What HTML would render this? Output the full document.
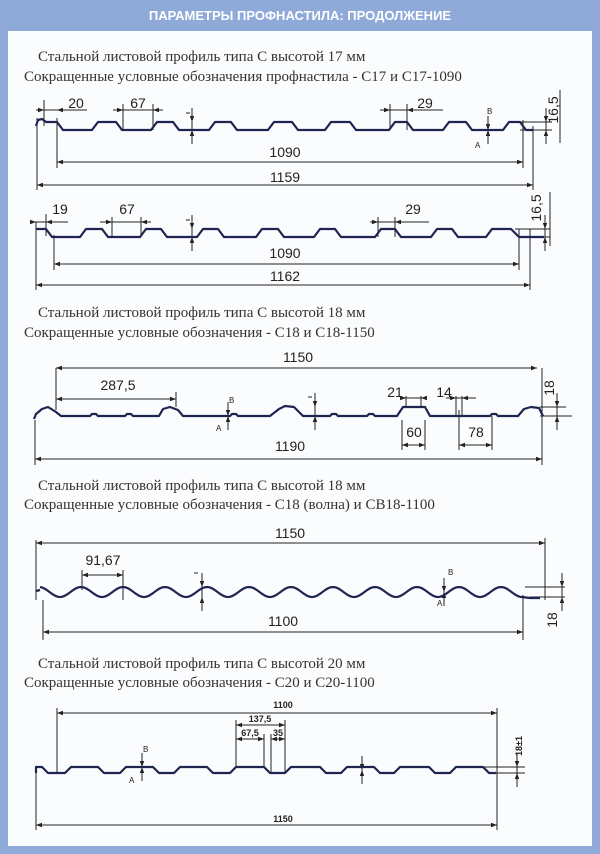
<!DOCTYPE html>
<html><head><meta charset="utf-8">
<style>
html,body{margin:0;padding:0;background:#fff;}
svg{display:block;}
.t{font-family:"Liberation Serif","Noto Serif CJK SC",serif;font-size:15px;fill:#333;}
.d{font-family:"Liberation Sans","Noto Sans CJK SC",sans-serif;font-size:14px;fill:#222;}
.s{font-family:"Liberation Sans","Noto Sans CJK SC",sans-serif;font-size:9px;fill:#222;font-weight:bold;}
</style></head><body>
<svg id="sv" width="600" height="854" viewBox="0 0 600 854" xmlns="http://www.w3.org/2000/svg">
<rect x="0" y="0" width="600" height="854" fill="#8faad9"/>
<rect x="8" y="31" width="584" height="815" fill="#fbfcfe"/>
<text x="300" y="20" text-anchor="middle" font-family="Liberation Sans, sans-serif" font-weight="bold" font-size="13" fill="#fff">ПАРАМЕТРЫ ПРОФНАСТИЛА: ПРОДОЛЖЕНИЕ</text>

<text class="t" x="38" y="61">Стальной листовой профиль типа С высотой 17 мм</text>
<text class="t" x="24" y="81">Сокращенные условные обозначения профнастила - С17 и С17-1090</text>
<text class="t" x="38" y="317">Стальной листовой профиль типа С высотой 18 мм</text>
<text class="t" x="24" y="337">Сокращенные условные обозначения - С18 и С18-1150</text>
<text class="t" x="38" y="490">Стальной листовой профиль типа С высотой 18 мм</text>
<text class="t" x="24" y="509">Сокращенные условные обозначения - С18 (волна) и СВ18-1100</text>
<text class="t" x="38" y="668">Стальной листовой профиль типа С высотой 20 мм</text>
<text class="t" x="24" y="687">Сокращенные условные обозначения - С20 и С20-1100</text>

<g id="g" stroke="#222" fill="none" stroke-width="1"></g>
<g id="p" stroke="#1d2550" fill="none" stroke-width="2.2" stroke-linejoin="round"></g>

<text class="d" x="76" y="108" text-anchor="middle">20</text>
<text class="d" x="138" y="108" text-anchor="middle">67</text>
<text class="d" x="425" y="108" text-anchor="middle">29</text>
<text class="d" x="285" y="157" text-anchor="middle">1090</text>
<text class="d" x="285" y="182" text-anchor="middle">1159</text>
<text class="d" transform="translate(558,110) rotate(-90)" text-anchor="middle">16,5</text>
<text class="d" x="60" y="214" text-anchor="middle">19</text>
<text class="d" x="127" y="214" text-anchor="middle">67</text>
<text class="d" x="413" y="214" text-anchor="middle">29</text>
<text class="d" x="285" y="258" text-anchor="middle">1090</text>
<text class="d" x="285" y="281" text-anchor="middle">1162</text>
<text class="d" transform="translate(541,208) rotate(-90)" text-anchor="middle">16,5</text>

<text class="d" x="298" y="362" text-anchor="middle">1150</text>
<text class="d" x="118" y="390" text-anchor="middle">287,5</text>
<text class="d" x="290" y="451" text-anchor="middle">1190</text>
<text class="d" x="395" y="397" text-anchor="middle">21</text>
<text class="d" x="444" y="397" text-anchor="middle">14</text>
<text class="d" x="414" y="437" text-anchor="middle">60</text>
<text class="d" x="476" y="437" text-anchor="middle">78</text>
<text class="d" transform="translate(554,388) rotate(-90)" text-anchor="middle">18</text>

<text class="d" x="290" y="538" text-anchor="middle">1150</text>
<text class="d" x="103" y="565" text-anchor="middle">91,67</text>
<text class="d" x="283" y="626" text-anchor="middle">1100</text>
<text class="d" transform="translate(557,620) rotate(-90)" text-anchor="middle">18</text>

<text class="s" x="283" y="708" text-anchor="middle">1100</text>
<text class="s" x="260" y="722" text-anchor="middle">137,5</text>
<text class="s" x="250" y="736" text-anchor="middle">67,5</text>
<text class="s" x="278" y="736" text-anchor="middle">35</text>
<text class="s" x="283" y="822" text-anchor="middle">1150</text>
<text class="s" transform="translate(522,746) rotate(-90)" text-anchor="middle">18±1</text>

<g font-family="Liberation Sans, sans-serif" font-size="8" fill="#222">
<text x="487" y="114">B</text><text x="475" y="148">A</text>
<text x="229" y="403">B</text><text x="216" y="431">A</text>
<text x="448" y="575">B</text><text x="437" y="606">A</text>
<text x="143" y="752">B</text><text x="129" y="783">A</text>
</g>
</svg>
<script>
var NS="http://www.w3.org/2000/svg";
function el(parent,tag,attrs){var e=document.createElementNS(NS,tag);for(var k in attrs)e.setAttribute(k,attrs[k]);document.getElementById(parent).appendChild(e);return e;}
function line(x1,y1,x2,y2,w){el('g','line',{x1:x1,y1:y1,x2:x2,y2:y2,'stroke-width':w||1});}
function arrow(x,y,dir){var s=6,h=2.2,p;
 if(dir=='l')p=[x,y,x+s,y-h,x+s,y+h];else if(dir=='r')p=[x,y,x-s,y-h,x-s,y+h];
 else if(dir=='u')p=[x,y,x-h,y+s,x+h,y+s];else p=[x,y,x-h,y-s,x+h,y-s];
 el('g','polygon',{points:p.join(' '),fill:'#222',stroke:'none'});}
function hdim(x1,x2,y){line(x1,y,x2,y);arrow(x1,y,'l');arrow(x2,y,'r');}
function hdimOut(x1,x2,y,l,r){line(x1-l,y,x2+r,y);arrow(x1,y,'r');arrow(x2,y,'l');}
function vdimOut(x,y1,y2){line(x,y1-14,x,y2+14);arrow(x,y1,'d');arrow(x,y2,'u');}
function trap(tops,s,yt,yb,start,end){
 var pts=(start||[]).slice();
 tops.forEach(function(t){pts.push([t[0]-s,yb],[t[0],yt],[t[1],yt],[t[1]+s,yb]);});
 if(end)end.forEach(function(p){pts.push(p);});
 el('p','polyline',{points:pts.map(function(p){return p.join(',')}).join(' ')});}
trap([[98,116],[157,173],[215,231],[274,292],[331,350]],6,122,130,
 [[36,126],[38,120],[42,119],[46,122],[57,122],[63,130]],
 [[389,130],[395,122],[407,122],[413,130],[443,130],[449,122],[466,122],[472,130],[503,130],[509,122],[520,122],[526,130],[533,130]]);
el('p','polyline',{points:'36,229 46,229 52,237 80,237 86,229 102,229 108,237 140,237 146,229 161,229 167,237 197,237 203,229 218,229 224,237 256,237 262,229 278,229 284,237 314,237 320,229 335,229 341,237 375,237 381,229 395,229 401,237 431,237 437,229 452,229 458,237 486,237 492,229 511,229 519,237 544,237'});
var p3='34,419 36,414 42,409 48,407 56,412 61,416 ';
p3+='90,416 92,414 96,414 98,416 125,416 127,414 131,414 133,416 159,416 163,409 170,407 178,410 183,416 ';
p3+='230,416 232,414 236,414 238,416 270,416 279,409 285,406 294,407 303,416 ';
p3+='330,416 332,414 336,414 338,416 367,416 369,414 373,414 375,416 397,416 403,407 425,407 430,416 ';
p3+='490,416 492,414 496,414 498,416 518,416 524,409 531,407 539,408 543,416';
el('p','polyline',{points:p3});
var pts=[];
for(var x=40;x<=522;x+=2){var y=592-5*Math.cos((x-81)/42*2*Math.PI);pts.push(x.toFixed(1)+','+y.toFixed(1));}
el('p','polyline',{points:pts.join(' ')+' 530,598 540,598'});
el('p','polyline',{points:'36,591 40,590'});
el('p','polyline',{points:'36,773 36,767 42,767 48,773 65,773 71,767 98,767 104,773 120,773 126,767 153,767 159,773 174,773 180,767 207,767 213,773 230,773 236,767 264,767 270,773 285,773 291,767 320,767 326,773 341,773 347,767 374,767 380,773 394,773 400,767 429,767 435,773 450,773 456,767 483,767 489,773 496,773'});

line(37,118,37,190);line(57,118,57,168);line(44,100,44,126);
hdimOut(44,57,110,8,30);
line(123,104,123,130);line(153,104,153,130);hdimOut(123,153,110,10,10);
line(390,104,390,130);line(407,104,407,130);hdimOut(390,407,110,10,36);
hdim(57,523,162);line(523,120,523,168);hdim(37,533,185);line(533,126,533,190);
vdimOut(192,122,130);line(186,113,190,113);
line(520,122,552,122);line(520,130,552,130);vdimOut(546,122,130);line(560,90,560,143);
vdimOut(488,130,130);
line(36,222,36,290);line(54,235,54,270);line(46,214,46,236);
hdimOut(36,46,222,6,22);
line(112,217,112,237);line(141,217,141,237);hdimOut(112,141,222,12,10);
line(378,217,378,237);line(395,217,395,237);hdimOut(378,395,222,8,34);
hdim(54,519,264);line(519,229,519,270);hdim(36,530,285);line(530,229,530,290);
vdimOut(192,229,237);line(186,220,190,220);
line(515,229,550,229);line(519,237,550,237);vdimOut(545,229,237);line(550,192,550,246);
line(56,368,56,410);line(35,420,35,465);line(542,368,542,465);
hdim(56,537,368);hdim(56,176,399);line(176,392,176,407);
hdim(35,542,459);
vdimOut(315,407,416);line(308,397,312,397);
line(402,420,402,450);line(425,420,425,450);hdim(402,425,445);
line(459,410,459,450);line(492,416,492,450);hdim(459,492,445);
line(406,396,406,407);line(421,396,421,407);hdimOut(406,421,398,6,4);
line(456,396,456,416);line(462,396,462,416);hdimOut(456,462,398,10,14);
line(540,407,566,407);line(540,416,572,416);vdimOut(557,407,416);
vdimOut(228,416,416);
line(36,540,36,600);line(545,538,545,600);hdim(36,545,543);
line(82,570,82,590);line(123,570,123,600);hdim(82,123,575);
line(43,600,43,640);line(523,595,523,640);hdim(43,523,632);
vdimOut(202,587,597);line(194,573,198,573);
line(525,587,565,587);line(530,597,565,597);vdimOut(562,587,597);
vdimOut(444,592,592);
line(57,708,57,773);line(497,708,497,830);hdim(57,497,713);
line(236,720,236,767);line(285,720,285,773);hdim(236,285,725);
line(264,734,264,767);line(271,734,271,773);hdim(236,264,739);hdim(271,285,739);
line(36,773,36,830);hdim(36,497,825);
line(484,767,525,767);line(490,773,525,773);vdimOut(517,767,773);
vdimOut(362,770,770);
vdimOut(142,767,767);
</script>
</body></html>
